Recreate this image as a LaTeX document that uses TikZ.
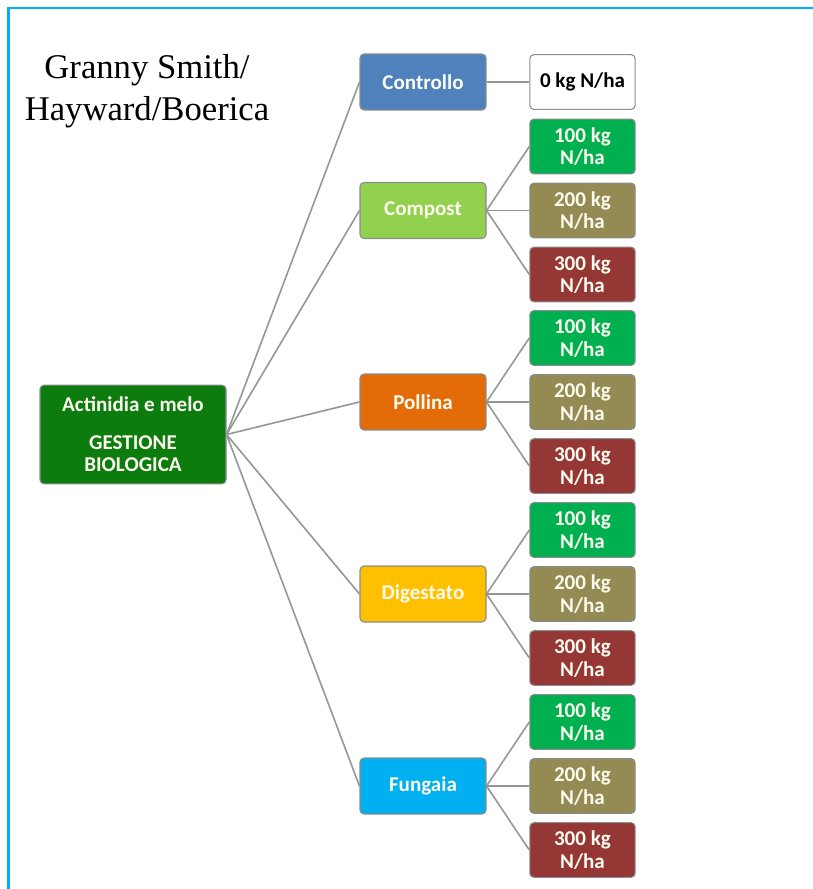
\documentclass[tikz,border=0pt]{standalone}
\usepackage{fontspec}
\setmainfont{Liberation Serif}
\newfontfamily\boxfont{Carlito}
\definecolor{frameblue}{RGB}{0,176,240}
\definecolor{boxgray}{RGB}{140,140,140}
\definecolor{linegray}{RGB}{150,150,150}
\definecolor{boxtext}{RGB}{253,251,238}
\definecolor{rootgreen}{RGB}{12,124,14}
\definecolor{contrblue}{RGB}{79,129,189}
\definecolor{compgreen}{RGB}{146,208,80}
\definecolor{pollorange}{RGB}{227,108,9}
\definecolor{diggold}{RGB}{255,192,0}
\definecolor{fungcyan}{RGB}{0,176,240}
\definecolor{doseA}{RGB}{0,176,80}
\definecolor{doseB}{RGB}{148,138,84}
\definecolor{doseC}{RGB}{149,55,53}
\tikzset{
  box/.style={draw=boxgray, line width=0.8pt, rounded corners=3pt, inner sep=0pt, align=center,
    text=boxtext, font=\boxfont\bfseries\fontsize{15.8}{17}\selectfont},
  rootbox/.style={box, fill=rootgreen, minimum width=139.5pt, minimum height=74pt},
  kindbox/.style={box, minimum width=94.5pt, minimum height=42pt},
  dosebox/.style={box, minimum width=79pt, minimum height=41pt},
  link/.style={draw=linegray, line width=1.2pt}
}
\begin{document}
\begin{tikzpicture}[x=0.75pt,y=-0.75pt]
  \useasboundingbox (0,0) rectangle (813,889);
  \draw[frameblue, line width=2.2pt] (813,8) -- (8.5,8) -- (8.5,889);
  \node[align=center, font=\fontsize{26}{31.5}\selectfont] (title) at (147,91.5) {Granny Smith/\\Hayward/Boerica};
  \node[rootbox] (root) at (133,434.5) {Actinidia e melo\\[11pt]GESTIONE\\BIOLOGICA};
  \node[kindbox, fill=contrblue] (contr) at (423,82) {Controllo};
  \node[kindbox, fill=compgreen] (comp) at (423,210.5) {Compost};
  \node[kindbox, fill=pollorange] (poll) at (423,402) {Pollina};
  \node[kindbox, fill=diggold] (dig) at (423,594) {Digestato};
  \node[kindbox, fill=fungcyan] (fung) at (423,786) {Fungaia};
  \node[dosebox, fill=white, text=black] (contr0) at (582.5,82) {0 kg N/ha};
  \foreach \k/\y in {comp/210.5, poll/402, dig/594, fung/786}{
    \node[dosebox, fill=doseA] (\k1) at (582.5,\y-64) {100 kg\\N/ha};
    \node[dosebox, fill=doseB] (\k2) at (582.5,\y) {200 kg\\N/ha};
    \node[dosebox, fill=doseC] (\k3) at (582.5,\y+64) {300 kg\\N/ha};
    \foreach \i in {1,2,3} \draw[link] (\k.east) -- (\k\i.west);
  }
  \foreach \k in {contr, comp, poll, dig, fung} \draw[link] (root.east) -- (\k.west);
  \draw[link] (contr.east) -- (contr0.west);
\end{tikzpicture}
\end{document}
